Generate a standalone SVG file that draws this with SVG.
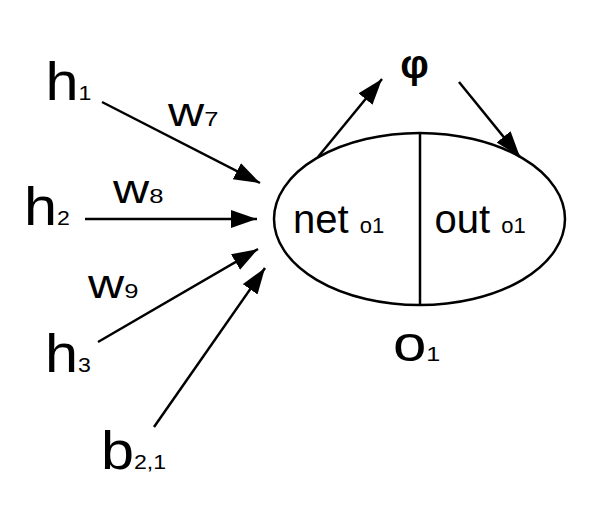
<svg xmlns="http://www.w3.org/2000/svg" width="594" height="510" viewBox="0 0 594 510">
<style>
text{font-family:"Liberation Sans",Arial,sans-serif;fill:#000}
.big{font-size:54px}
.w{font-size:41px}
.sub{font-size:21px}
.cell{font-size:40px}
.csub{font-size:22px}
.ln{stroke:#000;stroke-width:2.5;fill:none}
</style>
<defs>
<marker id="ah" markerUnits="userSpaceOnUse" markerWidth="28" markerHeight="20" refX="26" refY="9" orient="auto">
<path d="M0,0 L26,9 L0,18 z" fill="#000"/>
</marker>
</defs>
<rect width="594" height="510" fill="#fff"/>
<g id="connectors">
<line class="ln" x1="102" y1="102" x2="260" y2="183" marker-end="url(#ah)"/>
<line class="ln" x1="85" y1="219" x2="257" y2="219" marker-end="url(#ah)"/>
<line class="ln" x1="98" y1="342" x2="258" y2="249" marker-end="url(#ah)"/>
<line class="ln" x1="154" y1="427" x2="265" y2="268" marker-end="url(#ah)"/>
<line class="ln" x1="318" y1="157" x2="382" y2="79" marker-end="url(#ah)"/>
<line class="ln" x1="459" y1="82" x2="520" y2="157" marker-end="url(#ah)"/>
</g>
<g id="h1"><g transform="translate(45.4,100) scale(1.1,1)"><text class="big">h<tspan class="sub">1</tspan></text></g></g>
<g id="h2"><g transform="translate(24,225) scale(1.1,1)"><text class="big">h<tspan class="sub">2</tspan></text></g></g>
<g id="h3"><g transform="translate(45,372) scale(1.1,1)"><text class="big">h<tspan class="sub">3</tspan></text></g></g>
<g id="b21"><g transform="translate(101,469) scale(1.1,1)"><text class="big">b<tspan class="sub">2,1</tspan></text></g></g>
<g id="w7"><g transform="translate(168,126) scale(1.22,1)"><text class="w">w<tspan class="sub">7</tspan></text></g></g>
<g id="w8"><g transform="translate(113,203) scale(1.22,1)"><text class="w">w<tspan class="sub">8</tspan></text></g></g>
<g id="w9"><g transform="translate(88,298) scale(1.22,1)"><text class="w">w<tspan class="sub">9</tspan></text></g></g>
<g id="o1">
<ellipse class="ln" cx="419.5" cy="219" rx="145.5" ry="86"/>
<line class="ln" x1="420" y1="133" x2="420" y2="305"/>
<text class="cell" x="293" y="233">net <tspan class="csub">o1</tspan></text>
<text class="cell" x="434.5" y="233">out <tspan class="csub">o1</tspan></text>
<g transform="translate(393,361) scale(1.2,1)"><text style="font-size:50px">o<tspan class="sub">1</tspan></text></g>
</g>
<g id="phi"><text x="414.5" y="78" text-anchor="middle" style="font-size:40px;font-weight:bold">φ</text></g>
</svg>
